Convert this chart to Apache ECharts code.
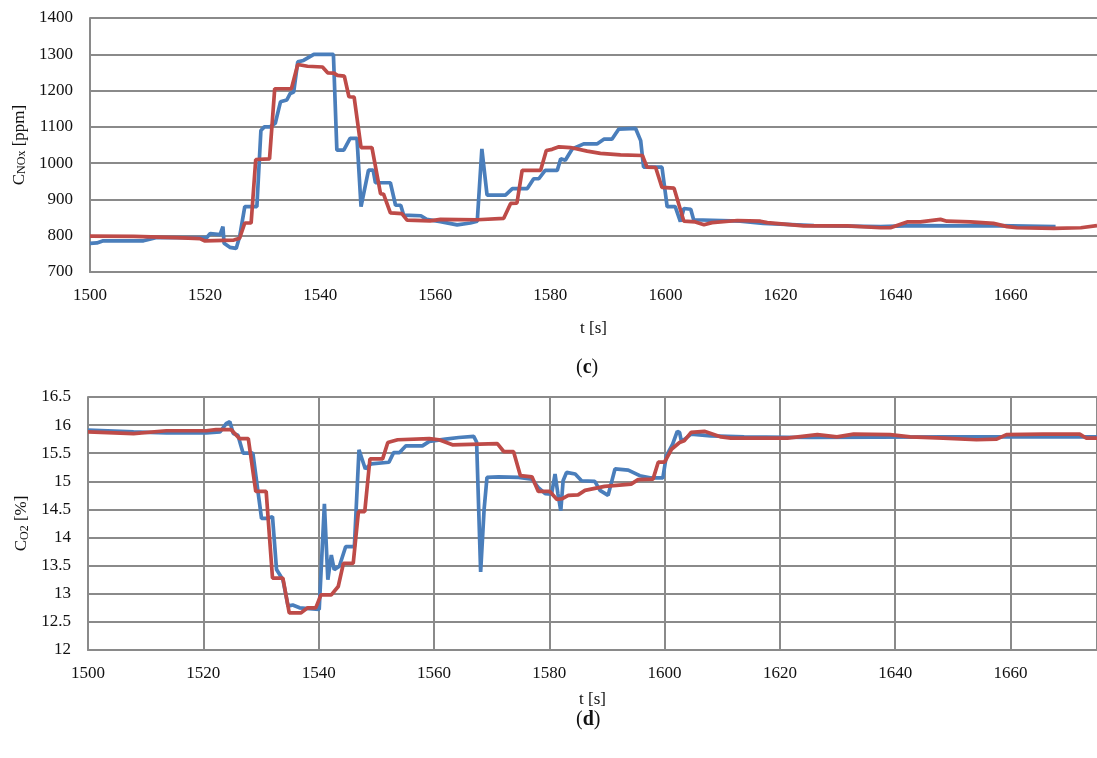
<!DOCTYPE html>
<html>
<head>
<meta charset="utf-8">
<script src="https://cdn.jsdelivr.net/npm/echarts@6/dist/echarts.min.js"></script>
<style>
    html, body { margin: 0; padding: 0; background: #fff; }
    #chart { width: 1097px; height: 758px; }
</style>
</head>
<body>
<div id="chart"></div>
<script>
// time axis
const tMin = 1500;
const tMax = 1675;
const tStep = 20;

// (c) NOx, ppm
const noxTicks = {min: 700, max: 1400, step: 100};
const noxBlue = [
    [1500, 779], [1501.2, 780], [1502.3, 786], [1509.3, 786], [1511.6, 795], [1520.3, 795],
    [1520.9, 806], [1522.6, 803], [1523.1, 825], [1523.3, 779], [1524.3, 768], [1525.4, 765],
    [1526, 797], [1526.9, 880], [1529, 880], [1529.7, 1090], [1530.3, 1100], [1531.3, 1100],
    [1532.2, 1110], [1533.1, 1169], [1534.2, 1174], [1534.8, 1192], [1535.4, 1196], [1536.1, 1279],
    [1537.1, 1283], [1538.9, 1300], [1542.3, 1300], [1542.9, 1036], [1544.1, 1036], [1545.2, 1068],
    [1546.4, 1068], [1547.1, 880], [1548.4, 981], [1549.2, 981], [1549.6, 946], [1552.2, 946],
    [1553.1, 884], [1554, 884], [1554.5, 857], [1557.5, 855], [1558.5, 845], [1560.9, 839],
    [1563.8, 830], [1566.1, 835], [1567.3, 840], [1568.1, 1039], [1569, 912], [1572.2, 912],
    [1573.4, 930], [1576, 930], [1577.1, 957], [1578, 957], [1579.1, 980], [1581.2, 980],
    [1581.8, 1012], [1582.6, 1008], [1583.8, 1039], [1585.8, 1053], [1588.1, 1053], [1589.3, 1066],
    [1590.7, 1066], [1591.9, 1094], [1594.8, 1096], [1595.7, 1062], [1596.2, 989], [1599.4, 989],
    [1600.3, 880], [1601.7, 880], [1602.6, 839], [1603.2, 875], [1604.4, 873], [1604.9, 844],
    [1613, 840], [1617, 834], [1625.8, 828], [1637.4, 825], [1643, 828], [1651.9, 827],
    [1657.7, 828], [1667.8, 825]
];
const noxRed = [
    [1500, 799], [1507.6, 798], [1515.1, 795], [1519.1, 792], [1519.9, 786], [1525, 788],
    [1526, 793], [1526.9, 835], [1528, 835], [1528.8, 1010], [1531.2, 1012], [1532.1, 1205],
    [1535, 1205], [1536.1, 1272], [1537.8, 1267], [1540.4, 1265], [1541.3, 1249], [1542.4, 1248],
    [1543, 1242], [1544.2, 1240], [1545, 1183], [1545.9, 1182], [1547.1, 1043], [1549, 1043],
    [1550.5, 915], [1551, 915], [1552.2, 863], [1554.2, 861], [1555.1, 843], [1559.1, 841],
    [1560.9, 845], [1567.3, 844], [1571.9, 848], [1573.1, 889], [1574.2, 890], [1575.1, 980],
    [1578.3, 980], [1579.3, 1035], [1580.3, 1038], [1581.5, 1045], [1583.5, 1043], [1586.4, 1033],
    [1588.7, 1027], [1592.2, 1023], [1596, 1021], [1596.8, 989], [1598.3, 988], [1599.4, 933],
    [1601.5, 931], [1603.2, 840], [1605.2, 838], [1606.7, 830], [1608.1, 836], [1612.5, 842],
    [1616.5, 840], [1617.7, 836], [1624, 827], [1631.6, 827], [1637.4, 822], [1639.1, 822],
    [1642, 838], [1644.3, 838], [1647.8, 845], [1648.9, 840], [1653, 838], [1657, 834],
    [1659.4, 825], [1661.1, 822], [1667.5, 820], [1672.2, 822], [1675, 828]
];

// (d) CO2, %
const co2Ticks = {min: 12, max: 16.5, step: 0.5};
const co2Blue = [
    [1500, 15.91], [1507.9, 15.88], [1513.6, 15.86], [1520.5, 15.86], [1522.9, 15.88], [1524, 16.03],
    [1524.6, 16.06], [1525.2, 15.85], [1526, 15.82], [1526.9, 15.5], [1528.6, 15.5], [1528.9, 15.52],
    [1530.1, 14.34], [1530.9, 14.34], [1532, 14.37], [1532.7, 13.43], [1533.8, 13.25], [1534.7, 12.78],
    [1535.5, 12.8], [1536.7, 12.75], [1540.1, 12.72], [1541, 14.6], [1541.6, 13.25], [1542.2, 13.69],
    [1542.7, 13.43], [1543.6, 13.49], [1544.7, 13.84], [1546.2, 13.84], [1547, 15.56], [1548.1, 15.22],
    [1549.1, 15.31], [1552.2, 15.34], [1553, 15.51], [1554, 15.51], [1555.1, 15.63], [1558, 15.63],
    [1559.2, 15.71], [1562, 15.75], [1564.3, 15.78], [1566.9, 15.8], [1567.4, 15.7], [1568.1, 13.39],
    [1568.7, 14.5], [1569.2, 15.07], [1571.2, 15.08], [1574.7, 15.07], [1577, 15.04], [1578.1, 14.89],
    [1579.3, 14.78], [1580.4, 14.77], [1581, 15.13], [1581.5, 14.78], [1582, 14.48], [1582.4, 15.01],
    [1583, 15.16], [1584.5, 15.13], [1585.6, 15.01], [1587.9, 15.0], [1588.8, 14.84], [1590.2, 14.75],
    [1591.4, 15.22], [1593.7, 15.2], [1595.7, 15.1], [1597.7, 15.06], [1599.7, 15.06], [1600.3, 15.45],
    [1601.4, 15.66], [1602.2, 15.89], [1602.6, 15.87], [1602.9, 15.72], [1603.5, 15.75], [1604.6, 15.84],
    [1608, 15.81], [1613.8, 15.79], [1625.3, 15.78], [1648.3, 15.79], [1659.8, 15.79], [1675, 15.79]
];
const co2Red = [
    [1500, 15.88], [1507.9, 15.85], [1513.6, 15.9], [1520.5, 15.9], [1522.2, 15.92], [1524.8, 15.92],
    [1526.3, 15.76], [1527.8, 15.76], [1529.1, 14.82], [1530.9, 14.82], [1532, 13.28], [1533.8, 13.28],
    [1534.9, 12.66], [1536.9, 12.66], [1538.1, 12.75], [1539.5, 12.75], [1540.4, 12.98], [1542.2, 12.98],
    [1543.4, 13.13], [1544.3, 13.54], [1546, 13.54], [1546.9, 14.46], [1548, 14.46], [1548.9, 15.4],
    [1551.1, 15.4], [1552, 15.69], [1553.7, 15.74], [1559.2, 15.76], [1560.9, 15.74], [1563.2, 15.65],
    [1571, 15.67], [1572.1, 15.53], [1573.8, 15.53], [1575, 15.1], [1577, 15.08], [1578.1, 14.82],
    [1580.1, 14.82], [1581.3, 14.68], [1582.2, 14.69], [1583.3, 14.75], [1585, 14.76], [1586.2, 14.84],
    [1589.6, 14.91], [1594.2, 14.95], [1595.4, 15.03], [1598, 15.04], [1598.9, 15.34], [1600, 15.34],
    [1601.2, 15.57], [1602.6, 15.69], [1603.4, 15.72], [1604.6, 15.87], [1606.9, 15.89], [1609.8, 15.79],
    [1611.5, 15.77], [1621.3, 15.77], [1626.5, 15.83], [1629.9, 15.79], [1632.8, 15.84], [1639.1, 15.83],
    [1642.6, 15.79], [1648.3, 15.77], [1654.1, 15.74], [1657.6, 15.75], [1659.3, 15.83], [1665.6, 15.84],
    [1672, 15.84], [1673.1, 15.77], [1675, 15.77]
];

const font = '"Liberation Serif", "DejaVu Serif", serif';
const gridColor = '#8a8a8a';
const blue = '#4a7ebb';
const red = '#be4b48';

const labelStyle = {fontFamily: font, fontSize: 17, color: '#111'};
const nameStyle = {
    fontFamily: font,
    fontSize: 17,
    color: '#111',
    rich: {
        a: {fontFamily: font, fontSize: 17, color: '#111'},
        s: {fontFamily: font, fontSize: 12, color: '#111', verticalAlign: 'bottom', padding: [5, 0, 0, 0]},
    },
};

const plain = v => String(v);

const makeX = (gridIndex, showSplit) => ({
    type: 'value',
    gridIndex,
    min: tMin,
    max: tMax,
    interval: tStep,
    name: 't [s]',
    nameLocation: 'middle',
    nameGap: gridIndex === 0 ? 48 : 41,
    nameTextStyle: {fontFamily: font, fontSize: 17, color: '#111'},
    axisLine: {show: true, lineStyle: {color: gridColor, width: 2}},
    axisTick: {show: false},
    axisLabel: {...labelStyle, margin: 15, showMaxLabel: false, formatter: plain},
    splitLine: {show: showSplit, lineStyle: {color: gridColor, width: 2}},
});

const makeY = (gridIndex, ticks, name, nameGap) => ({
    type: 'value',
    gridIndex,
    min: ticks.min,
    max: ticks.max,
    interval: ticks.step,
    name,
    nameLocation: 'middle',
    nameRotate: 90,
    nameGap,
    nameTextStyle: nameStyle,
    axisLine: {show: true, lineStyle: {color: gridColor, width: 2}},
    axisTick: {show: false},
    axisLabel: {...labelStyle, margin: 17, formatter: plain},
    splitLine: {show: true, lineStyle: {color: gridColor, width: 2}},
});

const makeLine = (data, color, idx) => ({
    type: 'line',
    xAxisIndex: idx,
    yAxisIndex: idx,
    data,
    color,
    showSymbol: false,
    symbol: 'none',
    lineStyle: {width: 3.7, color},
    animation: false,
});

const panelLabel = (letter, top) => ({
    type: 'text', left: 576, top,
    style: {text: '({b|' + letter + '})', font: '20px ' + font, fill: '#111',
        rich: {b: {fontWeight: 'bold', fontSize: 20, fontFamily: font, fill: '#111'}}},
});

const option = {
    animation: false,
    backgroundColor: '#fff',
    grid: [
        {left: 90, right: 0, top: 18, height: 254},
        {left: 88, right: 0, top: 397, height: 253},
    ],
    xAxis: [makeX(0, false), makeX(1, true)],
    yAxis: [
        makeY(0, noxTicks, '{a|C}{s|NOx}{a| [ppm]}', 53),
        makeY(1, co2Ticks, '{a|C}{s|O2}{a| [%]}', 55),
    ],
    series: [
        makeLine(noxBlue, blue, 0),
        makeLine(noxRed, red, 0),
        makeLine(co2Blue, blue, 1),
        makeLine(co2Red, red, 1),
    ],
    graphic: [panelLabel('c', 358), panelLabel('d', 710)],
};

let chartDom = document.getElementById('chart');
let myChart = echarts.init(chartDom);
myChart.setOption(option);
</script>
</body>
</html>
